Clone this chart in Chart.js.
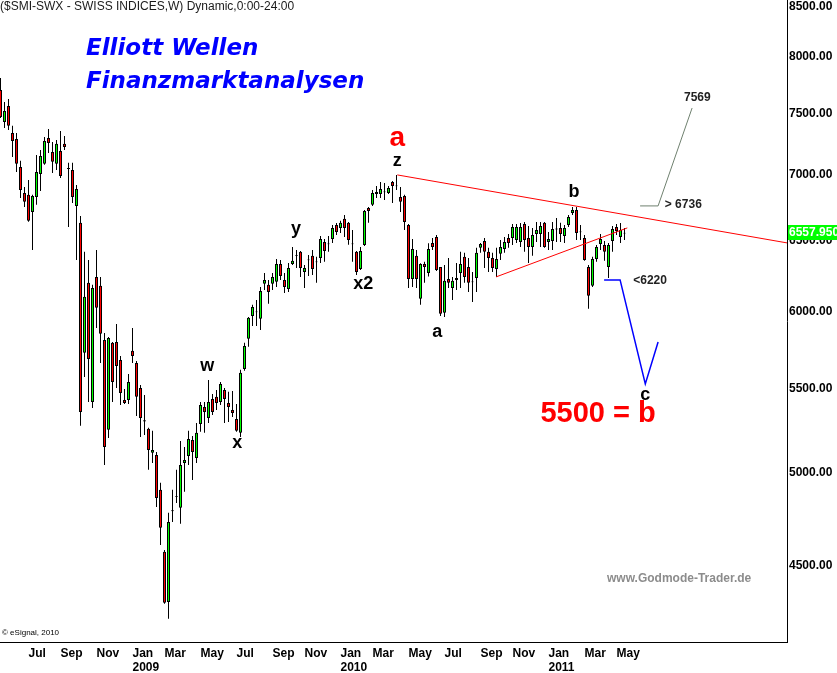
<!DOCTYPE html>
<html><head><meta charset="utf-8">
<script src="https://cdn.jsdelivr.net/npm/chart.js@4.4.1/dist/chart.umd.min.js"></script>
<style>html,body{margin:0;padding:0;background:#fff;overflow:hidden}</style>
</head><body>
<canvas id="c" width="837" height="673"></canvas>
<script>
// Weekly SMI candles, first bar = week of Monday 2008-05-05
const firstWeek = Date.UTC(2008, 4, 5);
const opens = [7706,7432,7567,7340,7290,7063,6859,6844,6713,6828,7007,7088,7299,7184,7088,7192,7250,7055,7039,6759,
6631,5725,6196,5416,6238,6175,5809,5248,5790,5796,5679,5428,5428,5738,5660,5502,5305,5254,5113,5101,
4904,4572,4320,4792,4870,4805,5055,5095,5188,5084,5283,5385,5319,5434,5447,5416,5490,5410,5367,5313,
5230,5622,5816,5969,5999,5949,6189,6182,6189,6203,6330,6217,6154,6330,6392,6417,6273,6362,6388,6347,
6373,6489,6477,6511,6615,6593,6661,6631,6478,6417,6294,6467,6743,6767,6867,6851,6870,6859,6944,6916,
6828,6836,6615,6224,6388,6085,6330,6266,6482,6526,6308,5990,6224,6161,6231,6266,6381,6308,6206,6231,
6446,6497,6417,6373,6294,6403,6438,6519,6519,6504,6489,6623,6519,6453,6548,6548,6631,6489,6497,6588,
6593,6533,6615,6705,6728,6566,6519,6309,6175,6366,6475,6467,6309,6497,6600,6526,6552];
const highs = [7811,7602,7628,7399,7340,7112,6905,6960,6844,7160,7200,7307,7373,7266,7282,7357,7315,7096,7096,6921,
6683,6417,6359,6182,6431,6238,5855,5829,5796,5915,5705,5496,5590,5888,5673,5521,5459,5260,5242,5118,
4943,4582,4778,4904,5016,5182,5147,5242,5212,5289,5416,5416,5552,5465,5490,5540,5502,5478,5484,5404,
5616,5790,5962,6044,6078,6168,6266,6217,6266,6366,6359,6266,6337,6453,6431,6424,6323,6395,6431,6381,
6533,6511,6533,6615,6630,6646,6690,6638,6578,6424,6453,6728,6750,6882,6913,6944,6936,6913,6952,7000,
6905,6844,6623,6511,6431,6335,6345,6480,6519,6541,6308,6323,6373,6238,6337,6417,6410,6373,6273,6446,
6482,6519,6446,6410,6446,6504,6526,6548,6623,6623,6630,6638,6608,6593,6638,6638,6638,6563,6638,6668,
6631,6615,6690,6751,6751,6615,6541,6323,6381,6467,6548,6497,6482,6608,6623,6630,6593];
const lows = [7466,7382,7365,7144,7023,6820,6751,6640,6431,6767,6874,7080,7176,7015,7039,6976,7200,6600,6782,6359,
5272,5571,5416,5379,5888,5660,5044,5200,5416,5502,5397,5404,5404,5660,5331,5206,5218,5016,5055,4810,
4608,4311,4239,4729,4832,4719,4893,5044,4959,5055,5236,5230,5289,5337,5367,5397,5289,5295,5325,5236,
5206,5610,5764,5902,5902,5875,6147,6051,6147,6168,6217,6126,6133,6323,6301,6238,6161,6245,6252,6196,
6337,6345,6417,6482,6541,6556,6526,6468,6345,6252,6287,6460,6631,6759,6820,6820,6805,6851,6782,6882,
6713,6578,6161,6168,6161,6044,6196,6240,6431,6280,5969,5962,6161,6078,6147,6161,6196,6133,6064,6133,
6410,6301,6273,6273,6238,6359,6410,6446,6467,6482,6453,6417,6337,6388,6489,6453,6446,6431,6431,6489,
6489,6482,6600,6690,6504,6504,6352,6017,6168,6345,6431,6352,6231,6417,6541,6482,6504];
const closes = [7474,7524,7399,7274,7088,6882,6790,6646,6836,7023,7152,7274,7258,7104,7250,6992,7225,7047,6828,6890,
5355,6099,5686,6161,6024,5849,5147,5822,5540,5641,5471,5410,5540,5705,5447,5319,5298,5130,5130,4859,
4698,4316,4729,4786,4866,5044,5072,5194,5118,5230,5397,5355,5416,5355,5410,5527,5434,5385,5349,5242,
5597,5770,5956,6030,5993,6140,6217,6133,6238,6330,6245,6168,6301,6352,6387,6301,6301,6356,6294,6342,
6511,6424,6472,6593,6563,6631,6593,6504,6472,6273,6424,6720,6720,6859,6851,6890,6864,6898,6913,6910,
6790,6638,6224,6438,6224,6330,6308,6438,6453,6287,5983,6210,6196,6210,6217,6330,6238,6196,6200,6410,
6475,6417,6373,6301,6366,6453,6489,6482,6600,6600,6600,6504,6453,6541,6578,6608,6453,6511,6585,6582,
6548,6593,6675,6728,6556,6560,6359,6106,6366,6453,6511,6417,6467,6585,6570,6578,6557.95];

const yTicks = [4500,5000,5500,6000,6500,7000,7500,8000,8500];
const monthNames = ['Jan','Feb','Mar','Apr','May','Jun','Jul','Aug','Sep','Oct','Nov','Dec'];
const labelMonths = [0,2,4,6,8,10];

// annotation drawings (week index, price)
const upperTrend = [{x:99.2,y:7000},{x:196.7,y:6482}];
const lowerTrend = [{x:123.9,y:6238},{x:156.7,y:6593}];
const bullPath = [{x:159.9,y:6759},{x:164.4,y:6759},{x:172.9,y:7550}];
const bearPath = [{x:150.9,y:6217},{x:154.9,y:6217},{x:161.2,y:5527},{x:164.4,y:5796}];

const waveLabels = [
  {t:'a', k:99.2, v:7299, c:'#ff0000', f:'bold 28px'},
  {t:'z', k:99.2, v:7112, c:'#000', f:'bold 18px'},
  {t:'y', k:73.9, v:6585, c:'#000', f:'bold 18px'},
  {t:'w', k:51.7, v:5641, c:'#000', f:'bold 18px'},
  {t:'x', k:59.2, v:5171, c:'#000', f:'bold 18px'},
  {t:'x2', k:90.7, v:6189, c:'#000', f:'bold 18px'},
  {t:'a', k:109.2, v:5862, c:'#000', f:'bold 18px'},
  {t:'b', k:143.4, v:6867, c:'#000', f:'bold 18px'},
  {t:'c', k:161.2, v:5459, c:'#000', f:'bold 18px'},
  {t:'7569', k:174.2, v:7637, c:'#222', f:'bold 12px'},
  {t:'> 6736', k:170.7, v:6767, c:'#222', f:'bold 12px'},
  {t:'<6220', k:162.4, v:6210, c:'#222', f:'bold 12px'},
  {t:'5500 = b', k:149.4, v:5343, c:'#ff0000', f:'bold 29px'}
];

const FONT = '"Liberation Sans", Arial, sans-serif';
const N = opens.length;
const barDate = i => new Date(firstWeek + i * 7 * 86400000);
const monthTicks = [];
for (let i = 1; i < N + 2; i++) {
  const d = barDate(i), p = barDate(i - 1);
  if (d.getUTCMonth() !== p.getUTCMonth() && labelMonths.includes(d.getUTCMonth())) {
    const m = monthNames[d.getUTCMonth()];
    monthTicks.push({k: i, label: d.getUTCMonth() === 0 ? [m, String(d.getUTCFullYear())] : m});
  }
}

const bodies = opens.map((o, i) => ({x: i, y: [o, closes[i]]}));
const wicks = lows.map((l, i) => ({x: i, y: [l, highs[i]]}));
const bodyColors = opens.map((o, i) => closes[i] >= o ? '#00ff00' : '#ff0000');

const textPlugin = {
  id: 'texts',
  afterDraw(chart) {
    const ctx = chart.ctx, xs = chart.scales.x, ys = chart.scales.y;
    ctx.save();
    ctx.textBaseline = 'middle';
    ctx.textAlign = 'left';
    ctx.fillStyle = '#1a1a1a';
    ctx.font = '12px ' + FONT;
    ctx.fillText('($SMI-SWX - SWISS INDICES,W) Dynamic,0:00-24:00', 0, 7);
    ctx.textBaseline = 'alphabetic';
    ctx.fillStyle = '#0000ff';
    ctx.font = 'italic bold 23px "DejaVu Sans", sans-serif';
    ctx.fillText('Elliott Wellen', 86, 55);
    ctx.fillText('Finanzmarktanalysen', 86, 88);
    ctx.fillStyle = '#8c8c8c';
    ctx.font = 'bold 12px ' + FONT;
    ctx.textBaseline = 'middle';
    ctx.fillText('www.Godmode-Trader.de', 607, 579);
    ctx.fillStyle = '#000';
    ctx.font = '8px ' + FONT;
    ctx.fillText('\u00a9 eSignal, 2010', 2, 633);
    ctx.textAlign = 'center';
    waveLabels.forEach(l => {
      ctx.fillStyle = l.c;
      ctx.font = l.f + ' ' + FONT;
      ctx.fillText(l.t, xs.getPixelForValue(l.k), ys.getPixelForValue(l.v));
    });
    // last price marker
    const last = closes[N - 1];
    const py = ys.getPixelForValue(last);
    ctx.fillStyle = '#00ff00';
    ctx.fillRect(788, Math.round(py) - 8, 49, 15);
    ctx.fillStyle = '#fff';
    ctx.textAlign = 'left';
    ctx.font = 'bold 12px ' + FONT;
    ctx.fillText(last.toFixed(3), 789, Math.round(py));
    ctx.restore();
  }
};

new Chart(document.getElementById('c'), {
  type: 'bar',
  data: {
    datasets: [
      {type:'line', data: upperTrend, borderColor:'#ff0000', borderWidth:1, pointRadius:0, order:-1},
      {type:'line', data: lowerTrend, borderColor:'#ff0000', borderWidth:1, pointRadius:0, order:-1},
      {type:'line', data: bullPath, borderColor:'#6f806f', borderWidth:1, pointRadius:0, order:-1},
      {type:'line', data: bearPath, borderColor:'#0000ff', borderWidth:1.5, pointRadius:0, order:-1},
      {data: bodies, backgroundColor: bodyColors, borderColor:'#000', borderWidth:1, borderSkipped:false,
       barThickness:3, inflateAmount:0, grouped:false, order:0},
      {data: wicks, backgroundColor:'#000', borderWidth:0, barThickness:1, inflateAmount:0, grouped:false, order:1}
    ]
  },
  options: {
    responsive:false, devicePixelRatio:1, animation:false,
    layout:{padding:0},
    plugins:{legend:{display:false}, tooltip:{enabled:false}, title:{display:false}},
    scales:{
      x:{type:'linear', min:-0.125, max:196.625, offset:false,
         afterBuildTicks: s => { s.ticks = monthTicks.map(t => ({value:t.k})); },
         afterFit: s => { s.height = 31; s.paddingLeft = 0; s.paddingRight = 0; },
         grid:{display:false, drawTicks:false, offset:false},
         border:{display:true, color:'#000', width:1},
         ticks:{callback:(v,i) => monthTicks[i] ? monthTicks[i].label : '', align:'start', labelOffset:-8,
                padding:4, autoSkip:false, maxRotation:0, color:'#000',
                font:{family:FONT, size:12, weight:'bold', lineHeight:1.2}}
      },
      y:{type:'logarithmic', position:'right', min:4129, max:8530,
         afterBuildTicks: s => { s.ticks = yTicks.map(v => ({value:v})); },
         afterFit: s => { s.width = 50; s.paddingTop = 0; s.paddingBottom = 0; },
         grid:{display:false, drawTicks:false},
         border:{display:true, color:'#000', width:1},
         ticks:{callback: v => v === 8500 ? ['', v.toFixed(2)] : v.toFixed(2), padding:2, color:'#000',
                font: c => ({family:FONT, size:12, weight:'bold', lineHeight: (c.tick && c.tick.value === 8500) ? 0.67 : 1.2})}
      }
    }
  },
  plugins:[textPlugin]
});
</script>
</body></html>
